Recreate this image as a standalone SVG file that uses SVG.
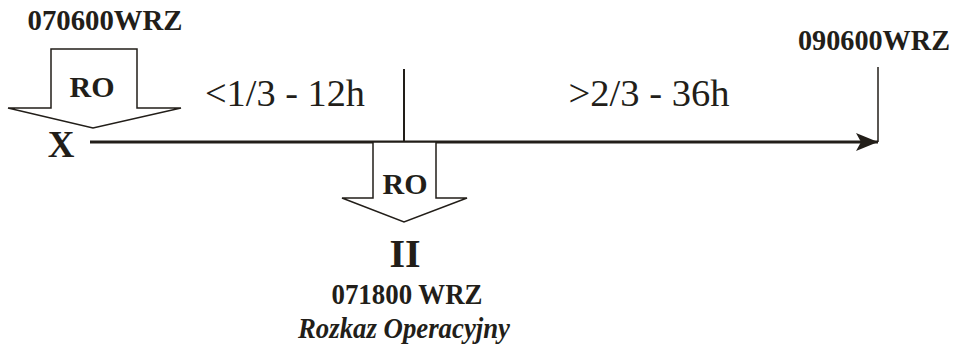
<svg xmlns="http://www.w3.org/2000/svg" width="957" height="345" viewBox="0 0 957 345">
<style>
text{font-family:"Times New Roman","Liberation Serif",Tinos,serif;fill:#221e19}
.b{font-weight:bold}
.bi{font-weight:bold;font-style:italic}
.arr{fill:#fff;stroke:#221e19;stroke-width:1.5;stroke-linejoin:miter}
.ln{stroke:#221e19;fill:none}
</style>
<defs>
<marker id="ah" markerUnits="userSpaceOnUse" markerWidth="24" markerHeight="18" refX="22" refY="9" orient="auto">
<path d="M0,0 L22,9 L0,18 L5,9 Z" fill="#221e19"/>
</marker>
</defs>
<g id="connectors">
<line class="ln" x1="90" y1="142" x2="878" y2="142" stroke-width="3" marker-end="url(#ah)"/>
<line class="ln" x1="404" y1="69" x2="404" y2="142" stroke-width="2"/>
<line class="ln" x1="878" y1="67" x2="878" y2="142" stroke-width="1.5"/>
</g>
<g id="start">
<text class="b" x="105" y="30" font-size="30" text-anchor="middle" textLength="155" lengthAdjust="spacingAndGlyphs">070600WRZ</text>
</g>
<g id="ro-start">
<polygon class="arr" points="51,49 137,49 137,108 181,108 93,128 8,108 51,108"/>
<text class="b" x="92" y="97" font-size="30" text-anchor="middle">RO</text>
</g>
<g id="x-label">
<text class="b" x="61" y="157" font-size="37" text-anchor="middle">X</text>
</g>
<g id="seg1">
<text x="285" y="106" font-size="37" text-anchor="middle" textLength="160" lengthAdjust="spacingAndGlyphs">&lt;1/3 - 12h</text>
</g>
<g id="seg2">
<text x="649" y="106" font-size="37" text-anchor="middle" textLength="161" lengthAdjust="spacingAndGlyphs">&gt;2/3 - 36h</text>
</g>
<g id="end">
<text class="b" x="874" y="50" font-size="29" text-anchor="middle" textLength="152" lengthAdjust="spacingAndGlyphs">090600WRZ</text>
</g>
<g id="ro-mid">
<polygon class="arr" points="373,142 373,198 342,198 404,222 467,198 436,198 436,142"/>
<text class="b" x="405" y="194" font-size="30" text-anchor="middle">RO</text>
</g>
<g id="mid-labels">
<text class="b" x="405" y="267" font-size="40" text-anchor="middle">II</text>
<text class="b" x="407" y="304" font-size="30" text-anchor="middle" textLength="151" lengthAdjust="spacingAndGlyphs">071800 WRZ</text>
<text class="bi" x="404" y="338" font-size="30" text-anchor="middle" textLength="212" lengthAdjust="spacingAndGlyphs">Rozkaz Operacyjny</text>
</g>
</svg>
